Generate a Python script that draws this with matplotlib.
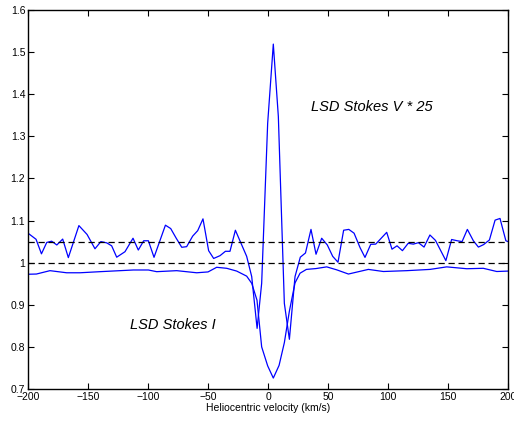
import matplotlib
matplotlib.use("Agg")
import matplotlib.pyplot as plt
import numpy as np

plt.rcParams['font.family'] = ['Liberation Sans', 'DejaVu Sans']

# Stokes V * 25 (offset to 1.05)
v_vel = [-200, -193.3, -188.8, -184.4, -180.3, -176, -171.1, -166.4, -157.6, -150.8,
         -144.2, -139.3, -134.4, -130.3, -126.1, -119.2, -112.5, -108.1, -103.6, -99.7,
         -95, -85.5, -81.1, -76.7, -71.9, -67.8, -62.8, -58.6, -54.2, -49.5,
         -45.3, -40, -35.5, -31.7, -27.2, -22.2, -17.8, -13.6, -9.1, -5.3,
         -0.3, 4.4, 8.6, 13.6, 17.8, 22.5, 26.9, 31.2, 35.8, 40,
         44.7, 49.4, 53.9, 58.3, 63, 67.3, 71.7, 76.7, 80.8, 85.6,
         89.7, 98.9, 103.3, 107.5, 112, 116.8, 121.1, 125.3, 130, 134.9,
         139.5, 148.2, 153, 157.7, 161.7, 166.1, 171.1, 175.3, 179.7, 184.5,
         189.2, 193.3, 198.2, 200]
stokes_v = [1.070, 1.0555, 1.021, 1.048, 1.051, 1.042, 1.056, 1.012, 1.088, 1.067,
            1.033, 1.050, 1.047, 1.040, 1.013, 1.026, 1.058, 1.030, 1.052, 1.052,
            1.0127, 1.089, 1.081, 1.059, 1.0365, 1.038, 1.063, 1.076, 1.104, 1.0285,
            1.010, 1.0166, 1.027, 1.027, 1.077, 1.044, 1.015, 0.967, 0.844, 0.951,
            1.331, 1.519, 1.347, 0.9035, 0.818, 0.967, 1.013, 1.023, 1.079, 1.020,
            1.058, 1.042, 1.015, 1.001, 1.077, 1.079, 1.070, 1.0356, 1.0125, 1.0436,
            1.044, 1.072, 1.032, 1.040, 1.0285, 1.046, 1.044, 1.0475, 1.037, 1.0657,
            1.053, 1.0048, 1.055, 1.052, 1.050, 1.079, 1.052, 1.037, 1.043, 1.054,
            1.101, 1.105, 1.052, 1.05]

# Stokes I
i_vel = [-200, -193, -181.7, -167.8, -156.7, -140, -112.2, -99.7, -92.8, -76.1,
         -59.4, -50, -42.8, -34.4, -26.1, -17.8, -13.6, -9.2, -5.3, -0.3,
         4.4, 9.2, 13.6, 17.8, 22.5, 26.7, 32, 40, 48.9, 57.2,
         67, 83.6, 96.1, 115.6, 135, 148.9, 165.6, 179.4, 190.6, 200]
stokes_i = [0.9725, 0.973, 0.981, 0.976, 0.976, 0.9786, 0.9826, 0.9826, 0.9786, 0.981,
            0.976, 0.978, 0.989, 0.9866, 0.980, 0.968, 0.951, 0.911, 0.80, 0.755,
            0.726, 0.756, 0.810, 0.885, 0.952, 0.975, 0.984, 0.986, 0.990, 0.983,
            0.973, 0.984, 0.979, 0.981, 0.984, 0.990, 0.9856, 0.9866, 0.979, 0.980]

ref_levels = [1.05, 1.0]
xticks = [-200, -150, -100, -50, 0, 50, 100, 150, 200]
yticks = [0.7, 0.8, 0.9, 1.0, 1.1, 1.2, 1.3, 1.4, 1.5, 1.6]
ytick_labels = ['0.7', '0.8', '0.9', '1', '1.1', '1.2', '1.3', '1.4', '1.5', '1.6']

fig = plt.figure(figsize=(5.14, 4.25), dpi=100)
ax = fig.add_axes([0.0545, 0.0847, 0.9339, 0.8918])

ax.plot(v_vel, stokes_v, color='#0000ff', lw=0.9)
ax.plot(i_vel, stokes_i, color='#0000ff', lw=0.9)
for lev in ref_levels:
    ax.axhline(lev, color='black', ls=(0, (5, 3)), lw=0.9)

ax.text(35.8, 1.37, 'LSD Stokes V * 25', style='italic', fontsize=10.5, va='center')
ax.text(-115, 0.852, 'LSD Stokes I', style='italic', fontsize=10.5, va='center')

ax.set_xlim(-200, 200)
ax.set_ylim(0.7, 1.6)
ax.set_xticks(xticks)
ax.set_yticks(yticks)
ax.set_yticklabels(ytick_labels)
ax.tick_params(direction='in', top=True, right=True, length=4, width=0.8,
               labelsize=7.5, pad=2)
for s in ax.spines.values():
    s.set_linewidth(1.0)
ax.set_xlabel('Heliocentric velocity (km/s)', fontsize=7.5, labelpad=1)

fig.savefig('out.png', dpi=100)
